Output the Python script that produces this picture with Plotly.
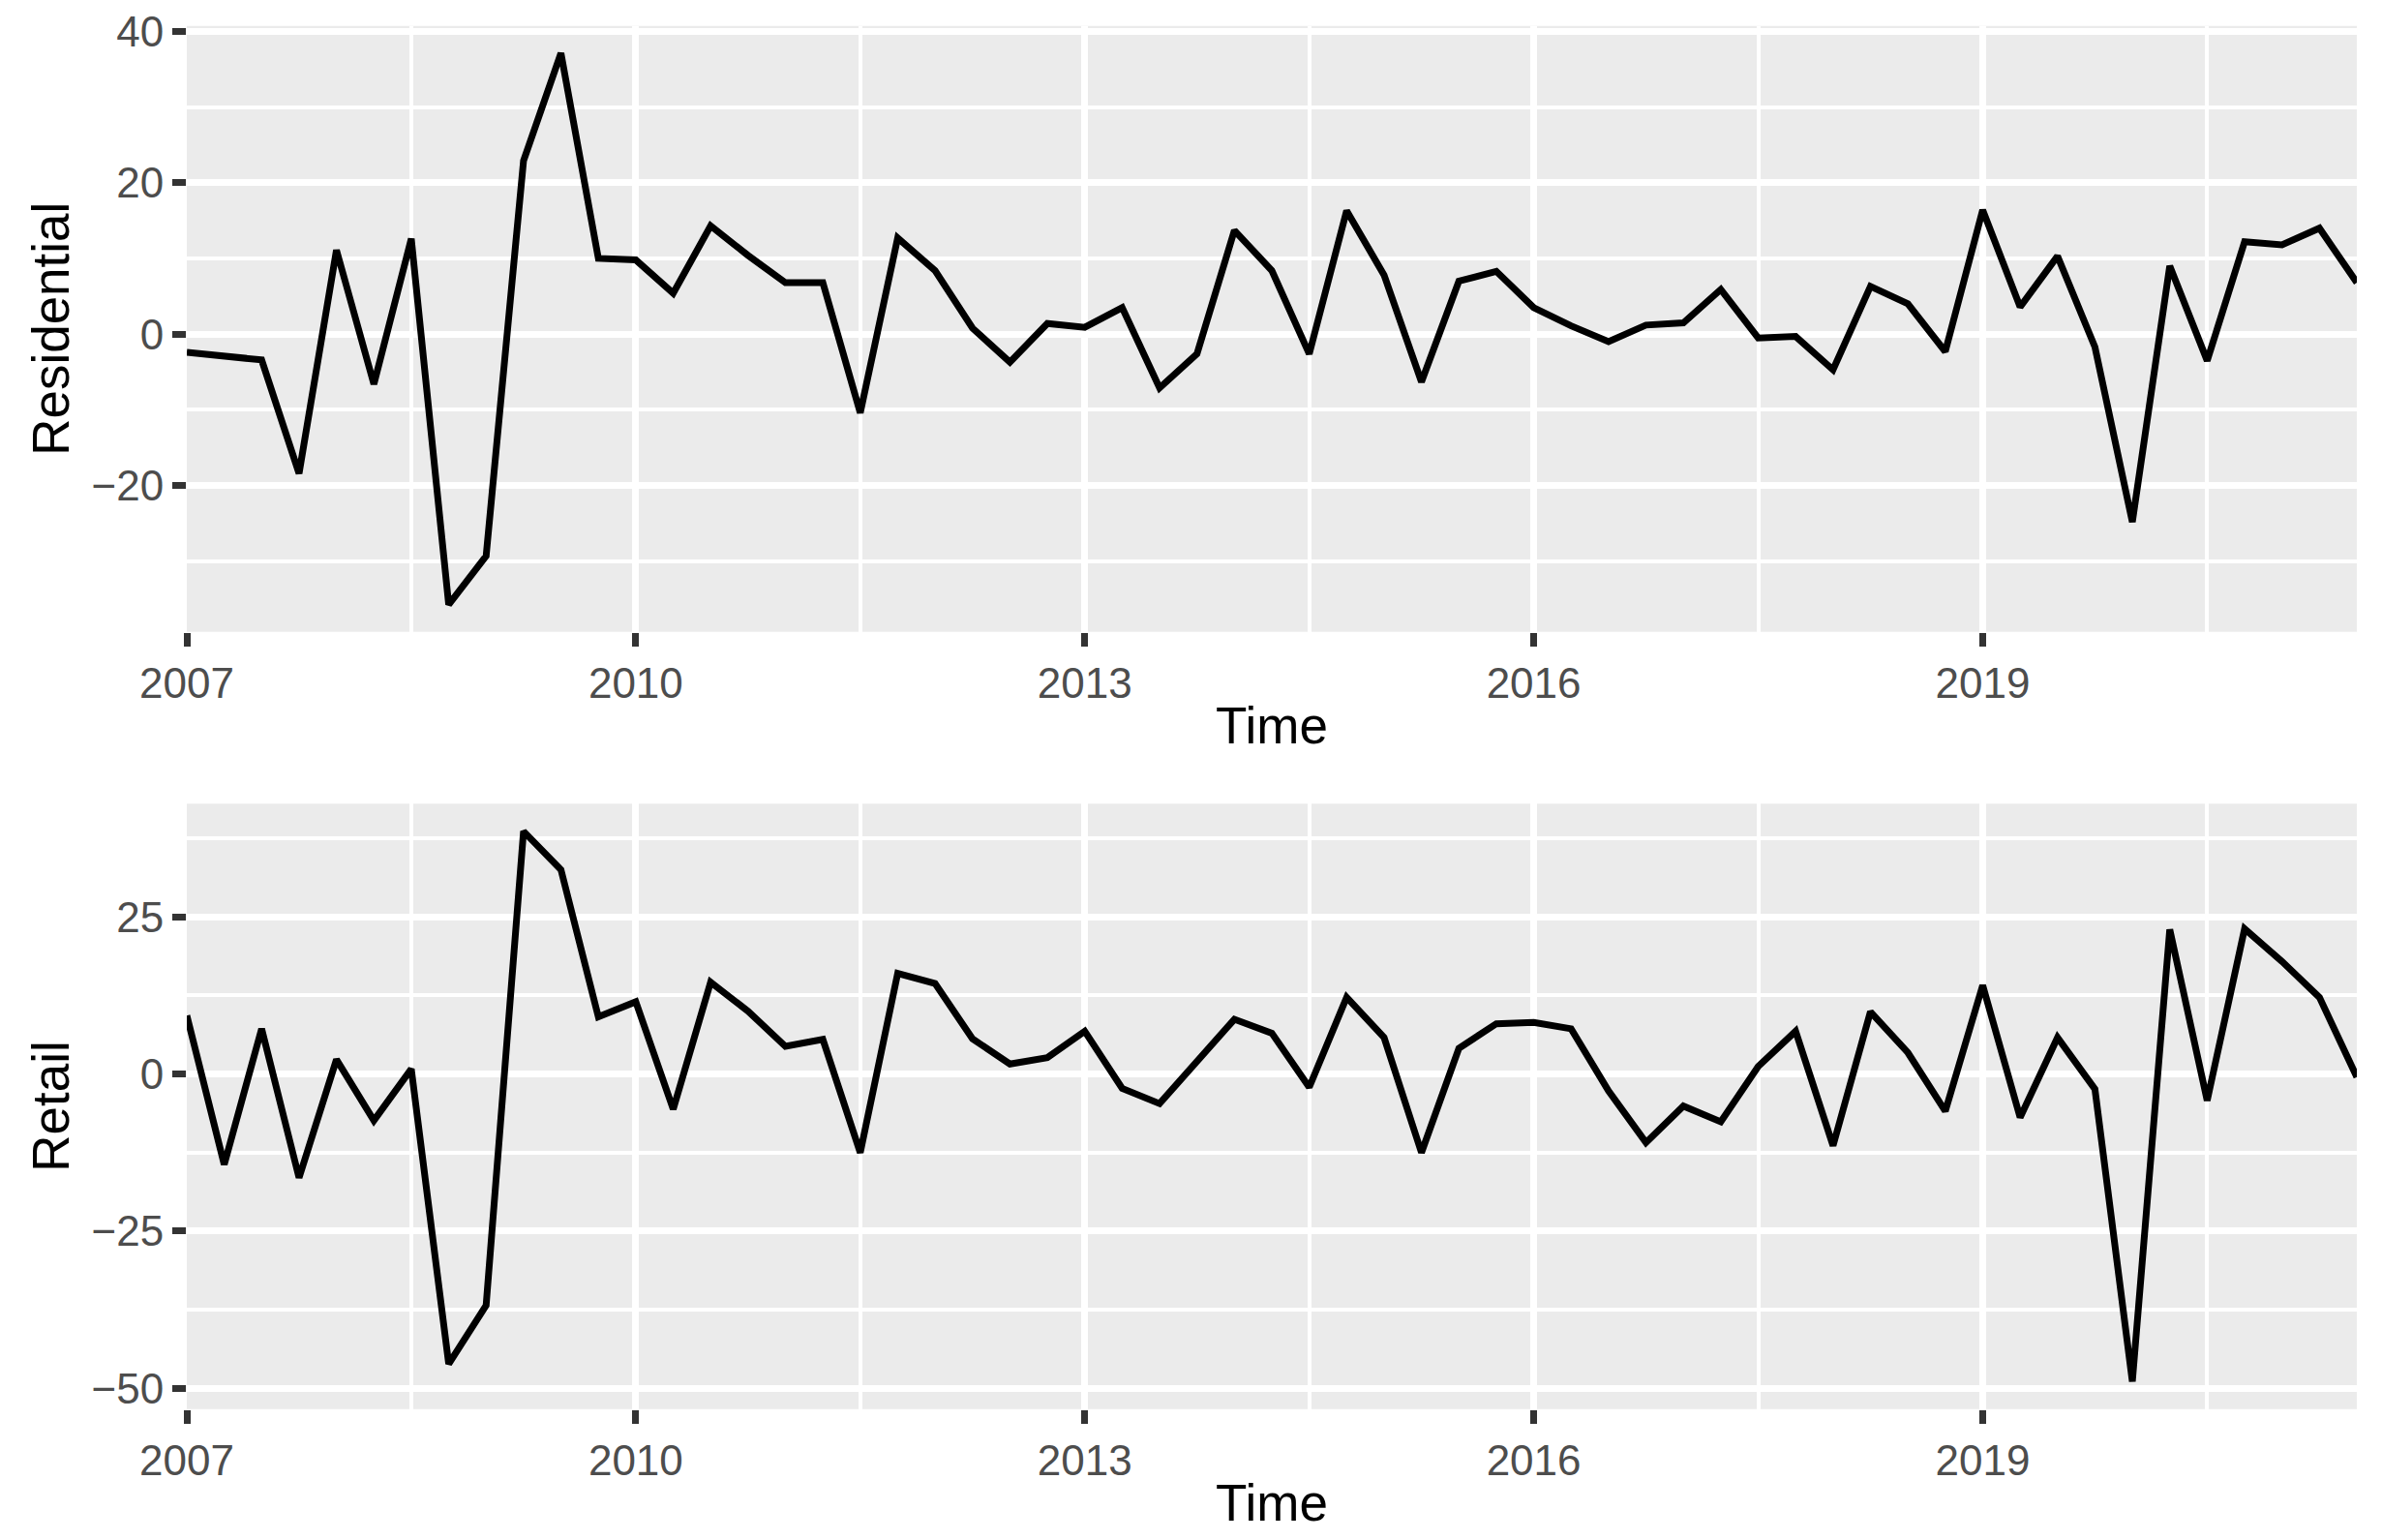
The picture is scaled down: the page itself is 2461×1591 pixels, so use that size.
import plotly.graph_objects as go

# Quarterly time index 2007 Q1 .. 2021 Q3
start_year = 2007
n_quarters = 59
time = [start_year + 0.25 * i for i in range(n_quarters)]

residential = [
    -2.4, -2.9, -3.4, -18.4, 11.1, -6.6, 12.6, -35.7, -29.3, 22.9, 37.1, 10.0,
    9.8, 5.4, 14.3, 10.4, 6.8, 6.8, -10.4, 12.7, 8.4, 0.8, -3.7, 1.4,
    0.9, 3.5, -7.1, -2.6, 13.7, 8.4, -2.6, 16.3, 7.8, -6.3, 7.0, 8.3,
    3.5, 1.1, -1.0, 1.2, 1.5, 5.9, -0.5, -0.3, -4.7, 6.3, 4.0, -2.3,
    16.4, 3.6, 10.3, -1.7, -24.8, 9.0, -3.5, 12.2, 11.8, 14.0, 6.8,
]

retail = [
    9.3, -14.4, 7.2, -16.5, 2.3, -7.4, 0.8, -46.1, -36.8, 38.6, 32.5, 9.1,
    11.5, -5.6, 14.6, 10.0, 4.4, 5.5, -12.5, 16.0, 14.4, 5.6, 1.6, 2.6,
    6.8, -2.3, -4.7, 2.0, 8.7, 6.5, -2.1, 12.2, 5.8, -12.5, 4.1, 8.0,
    8.2, 7.2, -2.7, -10.9, -5.1, -7.6, 1.2, 6.8, -11.4, 9.9, 3.4, -5.9,
    14.1, -6.9, 5.8, -2.4, -48.9, 23.0, -4.2, 23.1, 17.9, 12.2, -0.5,
]

x_tick_vals = [2007, 2010, 2013, 2016, 2019]
x_tick_text = ["2007", "2010", "2013", "2016", "2019"]
x_minor_vals = [2008.5, 2011.5, 2014.5, 2017.5, 2020.5]
top_y_ticks = [-20, 0, 20, 40]
top_y_minor = [-30, -10, 10, 30]
bottom_y_ticks = [-50, -25, 0, 25]
bottom_y_minor = [-37.5, -12.5, 12.5, 37.5]

# page body has an 8px default margin -> figure sized to fill the rest of the window
OFF = 8
W, H = 2461 - OFF, 1591 - OFF
FONT = "Liberation Sans, Arial, sans-serif"
TICK_FONT = dict(family=FONT, size=44, color="#4D4D4D")
TITLE_FONT = dict(family=FONT, size=53, color="black")
LW = 7

fig = go.Figure()
fig.add_trace(go.Scatter(x=time, y=residential, mode="lines",
                         line=dict(color="black", width=LW), xaxis="x", yaxis="y",
                         showlegend=False))
fig.add_trace(go.Scatter(x=time, y=retail, mode="lines",
                         line=dict(color="black", width=LW), xaxis="x2", yaxis="y2",
                         showlegend=False))

x_dom = [(193 - OFF) / W, (2435 - OFF) / W]
top_dom = [1 - (652.7 - OFF) / H, 1 - (26.8 - OFF) / H]
bot_dom = [1 - (1455.8 - OFF) / H, 1 - (830.3 - OFF) / H]

def xaxis_cfg(anchor):
    return dict(
        domain=x_dom, anchor=anchor, range=[2007, 2021.5],
        tickmode="array", tickvals=x_tick_vals, ticktext=x_tick_text,
        ticks="outside", ticklen=14, tickwidth=LW, tickcolor="#333333",
        tickfont=TICK_FONT, ticklabeloverflow="allow",
        showgrid=True, gridcolor="white", gridwidth=LW,
        minor=dict(tickmode="array", tickvals=x_minor_vals,
                   showgrid=True, gridcolor="white", gridwidth=LW / 2, ticks=""),
        zeroline=False, showline=False,
        title=dict(text="Time", font=TITLE_FONT, standoff=2),
    )

def yaxis_cfg(anchor, dom, rng, ticks, minor_ticks, title):
    return dict(
        domain=dom, anchor=anchor, range=rng,
        tickmode="array", tickvals=ticks,
        ticks="outside", ticklen=14, tickwidth=LW, tickcolor="#333333",
        tickfont=TICK_FONT, ticklabeloverflow="allow",
        showgrid=True, gridcolor="white", gridwidth=LW,
        minor=dict(tickmode="array", tickvals=minor_ticks,
                   showgrid=True, gridcolor="white", gridwidth=LW / 2, ticks=""),
        zeroline=False, showline=False,
        title=dict(text=title, font=TITLE_FONT, standoff=6),
    )

fig.update_layout(
    width=W, height=H,
    margin=dict(l=0, r=0, t=0, b=0, autoexpand=False),
    paper_bgcolor="white", plot_bgcolor="#EBEBEB",
    xaxis=xaxis_cfg("y"),
    yaxis=yaxis_cfg("x", top_dom, [-39.3, 40.7], top_y_ticks, top_y_minor, "Residential"),
    xaxis2=xaxis_cfg("y2"),
    yaxis2=yaxis_cfg("x2", bot_dom, [-53.3, 43.0], bottom_y_ticks, bottom_y_minor, "Retail"),
)

fig.write_html("out.html")
